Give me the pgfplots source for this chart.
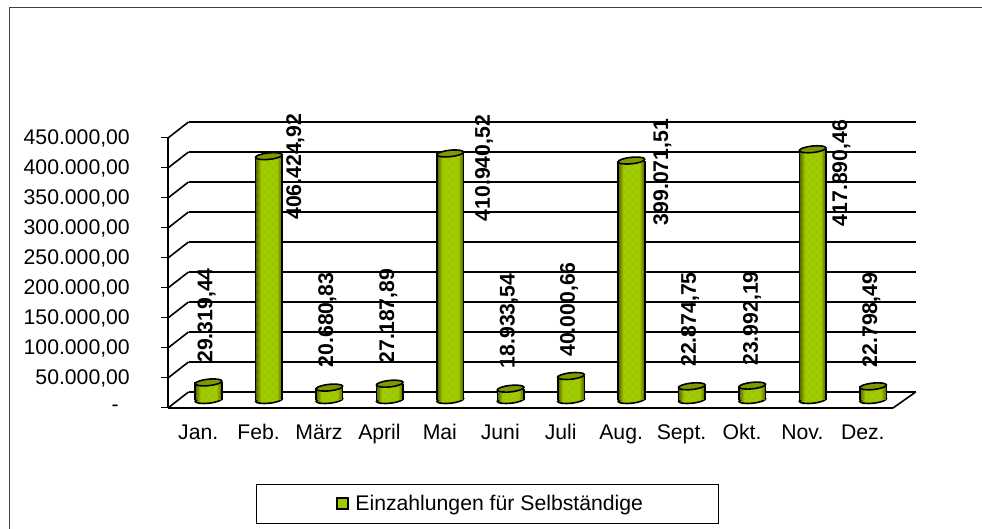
\documentclass[border=0pt]{standalone}
\usepackage{fontspec}
\setmainfont{Liberation Sans}
\usepackage{pgfplots}
\usepackage{pgfplotstable}
\pgfplotsset{compat=1.18}
\usetikzlibrary{patterns}

\definecolor{barG}{HTML}{9CCC00}
\definecolor{barD}{HTML}{4F5F00}
\definecolor{barC}{HTML}{7F9A00}
\definecolor{frameC}{HTML}{404040}

% cylinder body
\pgfdeclarehorizontalshading{cyl}{100bp}{color(0bp)=(barD); color(25bp)=(barD);
  color(35bp)=(barG); color(65bp)=(barG); color(75bp)=(barD); color(100bp)=(barD)}

\pgfdeclarepatternformonly{sparsedots}{\pgfqpoint{-1pt}{-1pt}}{\pgfqpoint{8pt}{8pt}}{\pgfqpoint{8pt}{8pt}}{
  \pgfpathcircle{\pgfqpoint{1pt}{1pt}}{0.55pt}
  \pgfpathcircle{\pgfqpoint{5pt}{5pt}}{0.55pt}
  \pgfusepath{fill}
}

\pgfdeclareplotmark{cylbase}{
  \pgfpathellipse{\pgfpointorigin}{\pgfpoint{13.3pt}{1.4pt}}{\pgfpoint{-0.4pt}{3.2pt}}
  \pgfshadepath{cyl}{0}
  \pgfusepath{stroke}
}
\pgfdeclareplotmark{cylcap}{
  \pgfpathellipse{\pgfpointorigin}{\pgfpoint{13.3pt}{1.4pt}}{\pgfpoint{-0.4pt}{3.2pt}}
  \pgfusepathqfillstroke
}

\pgfplotstableread{
x v
0.5 29319.44
1.5 406424.92
2.5 20680.83
3.5 27187.89
4.5 410940.52
5.5 18933.54
6.5 40000.66
7.5 399071.51
8.5 22874.75
9.5 23992.19
10.5 417890.46
11.5 22798.49
}\bars

\newcommand{\lf}{\fontsize{21.2}{25}\selectfont}

\begin{document}
\begin{tikzpicture}
\useasboundingbox (0,0) rectangle (982pt,529pt);
\draw[frameC,line width=1pt] (9.5pt,0pt) -- (9.5pt,521.5pt) -- (982pt,521.5pt);

% back wall
\begin{axis}[
  at={(188.5pt,137pt)}, anchor=south west,
  width=727pt, height=270pt, scale only axis,
  xmin=0, xmax=12, ymin=0, ymax=450000,
  scaled y ticks=false,
  axis line style={draw=none}, tick style={draw=none},
  xtick=\empty, yticklabels={},
  ytick={0,250000,300000,350000,400000,450000},
  extra y ticks={50000,100000,150000,200000},
  extra y tick labels={},
  ymajorgrids,
  grid style={black,line width=1.3pt},
  extra y tick style={grid style={black,line width=2pt}},
]
\end{axis}

% cylinders
\begin{axis}[
  at={(178.3pt,129pt)}, anchor=south west,
  width=725pt, height=270pt, scale only axis,
  xmin=0, xmax=12, ymin=0, ymax=450000,
  axis lines=none, clip=false, clip mode=individual,
]
\addplot[only marks, mark=cylbase, mark options={draw=black,line width=1.6pt}] table[x=x,y expr=0] {\bars};
\pgfplotsinvokeforeach{0,1,2,3,4,5,6,7,8,9,10,11}{
  \addplot[ybar, bar shift=0pt, bar width=26.6pt, draw=none, shading=cyl, shading angle=0,
    x filter/.code={\ifnum\coordindex=#1 \else\def\pgfmathresult{}\fi}] table[x=x,y=v] {\bars};
}
\addplot[ybar, bar shift=0pt, bar width=26.6pt, draw=none, pattern=sparsedots, pattern color=orange!85!red] table[x=x,y=v] {\bars};
\addplot[ycomb, black, line width=1.6pt, mark=none] table[x expr=\thisrow{x}-0.22,y=v] {\bars};
\addplot[ycomb, black, line width=1.6pt, mark=none] table[x expr=\thisrow{x}+0.22,y=v] {\bars};
\addplot[only marks, mark=cylcap, mark options={draw=black,fill=barC,line width=1.6pt}] table[x=x,y=v] {\bars};
\end{axis}

% front axis, tick labels, value labels, legend
\begin{axis}[
  at={(168pt,121pt)}, anchor=south west,
  width=725pt, height=270pt, scale only axis,
  xmin=0, xmax=12, ymin=0, ymax=450000,
  clip=false,
  scaled y ticks=false,
  axis x line=bottom, axis y line=left,
  axis line style={-,black,line width=1.6pt},
  tick align=outside,
  ytick={0,50000,100000,150000,200000,250000,300000,350000,400000,450000},
  yticklabels={{-\hspace{11pt}\null},{50.000,00},{100.000,00},{150.000,00},{200.000,00},{250.000,00},{300.000,00},{350.000,00},{400.000,00},{450.000,00}},
  yticklabel style={font=\lf,anchor=east,inner sep=0pt,xshift=-31pt},
  ytick style={black,line width=1pt},
  major tick length=7pt,
  xtick={0.5,1.5,2.5,3.5,4.5,5.5,6.5,7.5,8.5,9.5,10.5,11.5},
  xticklabels={Jan.,Feb.,März,April,Mai,Juni,Juli,Aug.,Sept.,Okt.,Nov.,Dez.},
  xticklabel style={font=\lf,anchor=base,yshift=-25pt,inner sep=0pt},
  xtick style={draw=none},
  minor xtick={0,1,2,3,4,5,6,7,8,9,10,11,12},
  minor tick length=5pt,
  minor x tick style={black,line width=0.8pt},
  legend style={at={(rel axis cs:0.44,-0.354)},anchor=center,draw=black,line width=0.8pt,
    inner xsep=73pt,inner ysep=9pt,font=\lf,
    legend cell align=left},
  legend image code/.code={\path (-8pt,0pt); \draw[fill=barG,draw=black,line width=2pt] (0pt,-5pt) rectangle (11pt,6pt);},
]
\addlegendimage{}
\addlegendentry{\kern4pt Einzahlungen für Selbständige}
\addplot[only marks, mark=none, point meta=explicit symbolic, nodes near coords,
  every node near coord/.append style={rotate=90,anchor=center,inner sep=0pt,
    font=\lf\bfseries,text height=15pt,text depth=0pt}]
  table[x=x,y=y,meta=lab] {
x y lab
0.612 154167 29.319,44
2.081 402167 406.424,92
2.607 146667 20.680,83
3.617 153333 27.187,89
5.205 400000 410.940,52
5.611 145000 18.933,54
6.612 164167 40.000,66
8.152 393333 399.071,51
8.615 147500 22.874,75
9.641 149167 23.992,19
11.115 391667 417.890,46
11.611 146667 22.798,49
};
\pgfplotsinvokeforeach{0,50000,100000,150000,200000,250000,300000,350000,400000,450000}{
  \draw[black,line width=1.6pt] (axis cs:0,#1) -- ++(20.5pt,16pt);
}
\draw[black,line width=1.6pt] (axis cs:12,0) -- ++(22.7pt,16pt);
\end{axis}
\end{tikzpicture}
\end{document}
